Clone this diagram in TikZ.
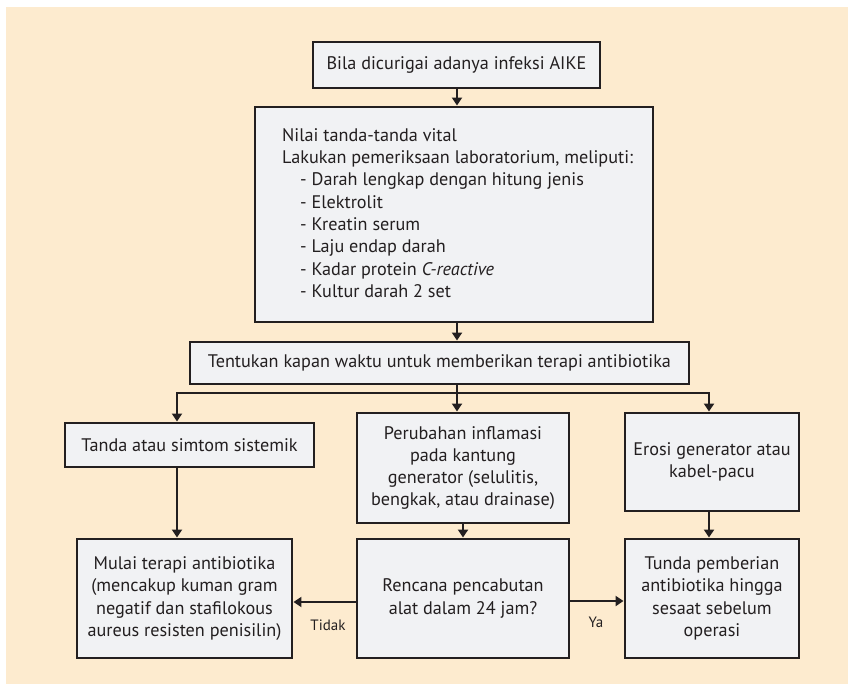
\documentclass[tikz,border=0pt]{standalone}
\usepackage{fontspec}
\setmainfont{PT Sans}
\usetikzlibrary{arrows.meta}
\definecolor{bgbeige}{HTML}{FDEBCF}
\definecolor{boxfill}{HTML}{F1F2F4}
\definecolor{ink}{HTML}{231F20}
\begin{document}
\begin{tikzpicture}[x=1pt,y=-1pt,
  fbox/.style={draw=ink,fill=boxfill,line width=2.9pt,inner sep=0pt,
    font=\fontsize{18.2}{22.3}\selectfont,align=center,text=ink},
  arr/.style={draw=ink,line width=2.6pt,-{Triangle[width=10pt,length=8pt]}},
  lbl/.style={font=\fontsize{15}{18}\selectfont,text=ink}]
\useasboundingbox[fill=white] (0,0) rectangle (848,685);
\fill[bgbeige] (6,7) rectangle (848,684);

\node[fbox,minimum width=287pt,minimum height=46pt] (b1) at (456.5,65) {Bila dicurigai adanya infeksi AIKE};
\node[fbox,minimum width=398pt,minimum height=215pt] (b2) at (454,214.5) {};
\node[font=\fontsize{18.2}{22.3}\selectfont,text=ink,align=left,inner sep=0pt,anchor=west] (b2t) at (282,213)
 {Nilai tanda-tanda vital\\
  Lakukan pemeriksaan laboratorium, meliputi:\\
  \hspace*{18pt}- Darah lengkap dengan hitung jenis\\
  \hspace*{18pt}- Elektrolit\\
  \hspace*{18pt}- Kreatin serum\\
  \hspace*{18pt}- Laju endap darah\\
  \hspace*{18pt}- Kadar protein \textit{C-reactive}\\
  \hspace*{18pt}- Kultur darah 2 set};
\node[fbox,minimum width=499pt,minimum height=42pt] (b3) at (439.5,363) {Tentukan kapan waktu untuk memberikan terapi antibiotika};
\node[fbox,minimum width=249pt,minimum height=44pt] (b4) at (189.5,445) {Tanda atau simtom sistemik};
\node[fbox,minimum width=212pt,minimum height=110pt] (b5) at (463,468) {Perubahan inflamasi\\pada kantung\\generator (selulitis,\\bengkak, atau drainase)};
\node[fbox,minimum width=174pt,minimum height=98pt] (b6) at (712,462) {Erosi generator atau\\kabel-pacu};
\node[fbox,minimum width=215pt,minimum height=119pt] (b7) at (184.5,598.5) {Mulai terapi antibiotika\\(mencakup kuman gram\\negatif dan stafilokous\\aureus resisten penisilin)};
\node[fbox,minimum width=212pt,minimum height=119pt] (b8) at (463,598.5) {Rencana pencabutan\\alat dalam 24 jam?};
\node[fbox,minimum width=174pt,minimum height=119pt] (b9) at (712,598.5) {Tunda pemberian\\antibiotika hingga\\sesaat sebelum\\operasi};

\coordinate (mx) at (457,0);
\coordinate (lx) at (177,0);
\coordinate (rx) at (709,0);
\coordinate (j) at (457,393);

\draw[arr] (b1.south -| mx) -- (b2.north -| mx);
\draw[arr] (b2.south -| mx) -- (b3.north -| mx);
\draw[draw=ink,line width=2.6pt] (b3.south -| mx) -- (j);
\draw[arr] (j) -- (b5.north -| mx);
\draw[arr] (j) -| (b4.north -| lx);
\draw[arr] (j) -| (b6.north -| rx);
\draw[arr] (b4.south -| lx) -- (b7.north -| lx);
\draw[arr] (b5.south) -- (b8.north);
\draw[arr] (b6.south -| rx) -- (b9.north -| rx);
\draw[arr] (b8.west |- 0,602) -- (b7.east |- 0,602);
\draw[arr] (b8.east |- 0,601) -- (b9.west |- 0,601);
\node[lbl] (tidak) at (328,625) {Tidak};
\node[lbl] (ya) at (596,622) {Ya};
\end{tikzpicture}
\end{document}
